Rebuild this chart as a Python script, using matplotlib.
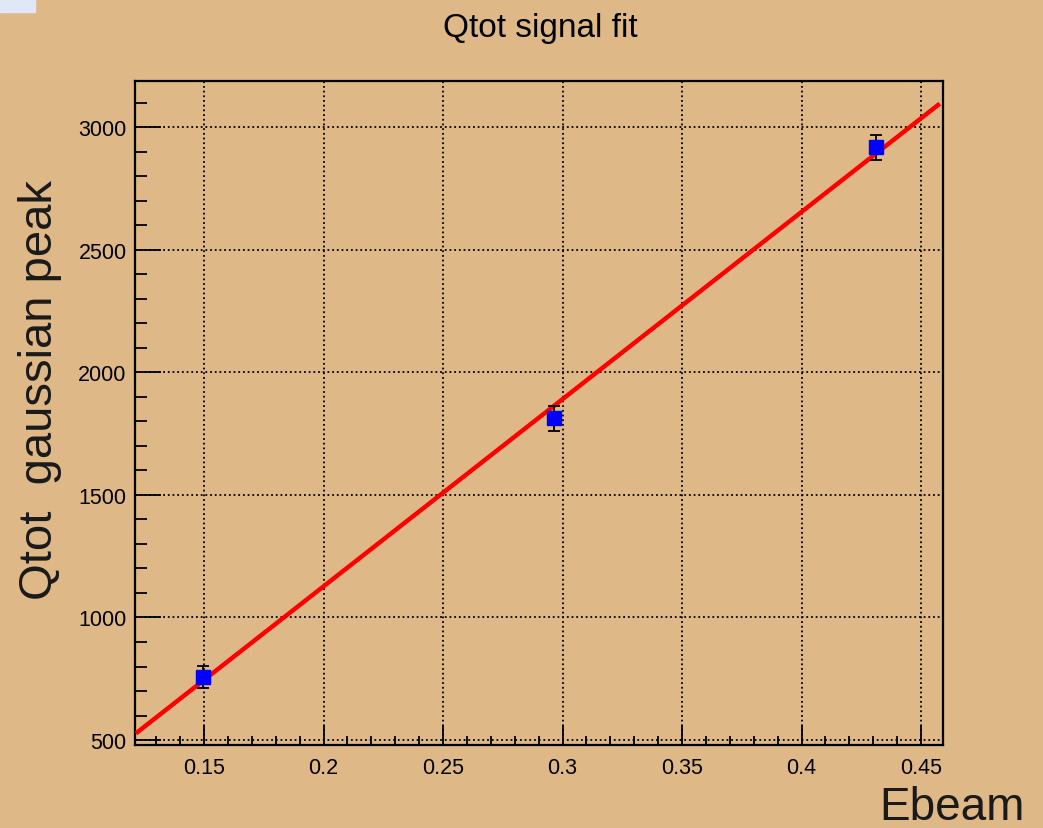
"""
Qtot signal fit : pic gaussien de Qtot en fonction de Ebeam, avec ajustement lineaire.
"""
import matplotlib
matplotlib.use("Agg")
import matplotlib.pyplot as plt
from matplotlib.ticker import MultipleLocator
from matplotlib.patches import Rectangle

# --- Donnees ---
ebeam = [0.1497, 0.2966, 0.4312]
qtot_peak = [757, 1812, 2918]
qtot_err = [45, 50, 51]

# droite d'ajustement (extremites)
fit_x = [0.1222, 0.4571]
fit_y = [533, 3090]

FOND = "#deb887"
police = ["Liberation Sans Narrow", "Liberation Sans", "DejaVu Sans"]
plt.rcParams["font.family"] = police

fig = plt.figure(figsize=(10.43, 8.29), dpi=100, facecolor=FOND)
ax = fig.add_axes([135 / 1043, 1 - 746 / 829, 808 / 1043, 664 / 829])
ax.set_facecolor(FOND)

# petit rectangle en haut a gauche
fig.patches.append(Rectangle((0, 1 - 13 / 829), 35 / 1043, 13 / 829,
                             transform=fig.transFigure, color="#e0e8f8", zorder=0))

ax.plot(fit_x, fit_y, color="red", lw=3.2, zorder=3)
ax.errorbar(ebeam, qtot_peak, yerr=qtot_err, fmt="none", ecolor="black",
            elinewidth=1.3, capsize=4.5, capthick=1.3, zorder=4)
ax.plot(ebeam, qtot_peak, "s", color="blue", ms=9.5, mec="blue", zorder=5)

ax.set_xlim(0.1211, 0.4592)
ax.set_ylim(480, 3188)
ax.xaxis.set_major_locator(MultipleLocator(0.05))
ax.xaxis.set_minor_locator(MultipleLocator(0.01))
ax.yaxis.set_major_locator(MultipleLocator(500))
ax.yaxis.set_minor_locator(MultipleLocator(100))
ax.xaxis.set_major_formatter(plt.FuncFormatter(lambda v, p: f"{v:g}"))
ax.yaxis.set_major_formatter(plt.FuncFormatter(lambda v, p: f"{v:g}"))

ax.tick_params(which="both", direction="in", top=False, right=False,
               labelsize=15.5, width=1.3)
ax.tick_params(axis="x", which="major", length=14.4, pad=9)
ax.tick_params(axis="x", which="minor", length=6.5)
ax.tick_params(axis="y", which="major", length=18.7, pad=6)
ax.tick_params(axis="y", which="minor", length=8.6)
ax.grid(True, which="major", color="black", ls=(0, (1, 1.6)), lw=1.3)
for s in ax.spines.values():
    s.set_linewidth(1.6)

fig.text(540 / 1043, 1 - 28 / 829, "Qtot signal fit", ha="center", va="center", fontsize=24)
fig.text(40 / 1043, 1 - 390 / 829, "Qtot  gaussian peak", rotation=90,
         ha="center", va="center", fontsize=34, color="#1a1a1a")
fig.text(1025 / 1043, 1 - 808 / 829, "Ebeam", ha="right", va="center",
         fontsize=33, color="#1a1a1a")

fig.savefig("out.png", dpi=100, facecolor=FOND)
